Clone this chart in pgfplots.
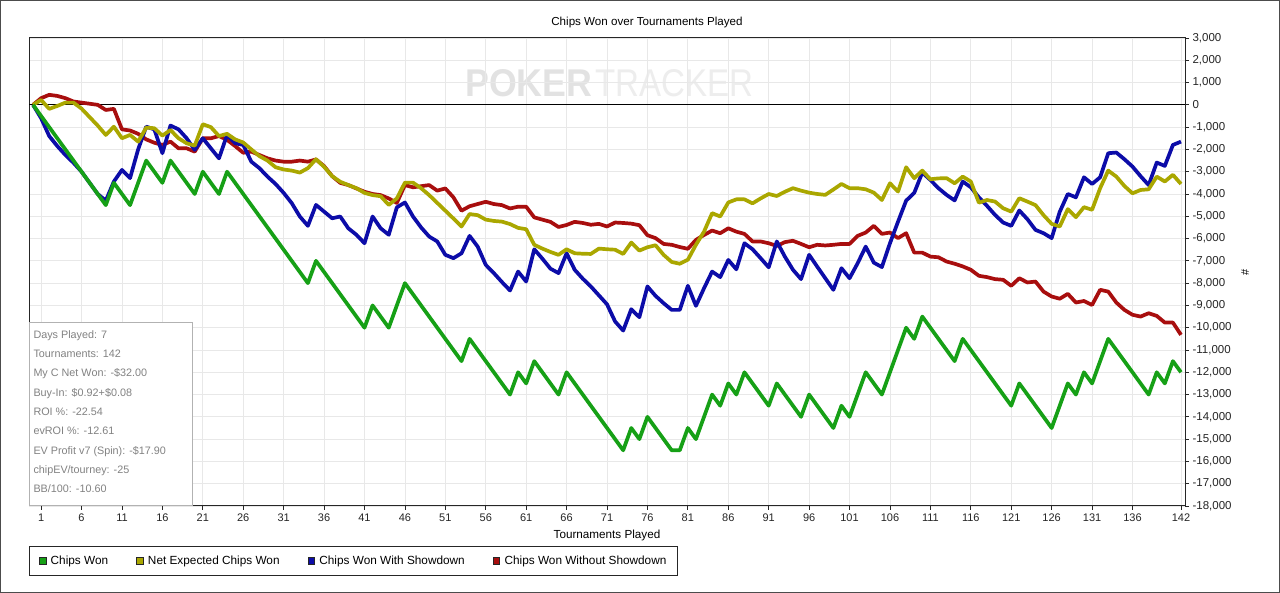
\documentclass[border=0pt]{standalone}
\usepackage{pgfplots}
\pgfplotsset{compat=1.18}
\usepackage{pgfplotstable}
\usepackage{graphicx}
\usepackage{fontspec}
\setmainfont{Liberation Sans}

\definecolor{cwgreen}{RGB}{22,160,22}
\definecolor{cwolive}{RGB}{170,167,0}
\definecolor{cwblue}{RGB}{12,12,168}
\definecolor{cwred}{RGB}{168,14,14}
\definecolor{wmdark}{RGB}{226,226,226}
\definecolor{wmlight}{RGB}{237,237,237}
\definecolor{statgray}{RGB}{130,130,130}

\pgfplotstableread{
t cw nev wsd wosd
0 0 0 0 0
1 -500 220 -600 300
2 -1000 -180 -1400 450
3 -1500 -50 -1850 400
4 -2000 100 -2250 300
5 -2500 100 -2600 150
6 -3000 -170 -3000 100
7 -3500 -550 -3500 50
8 -4000 -930 -4000 0
9 -4500 -1350 -4300 -230
10 -3500 -980 -3440 -180
11 -4000 -1500 -2920 -1100
12 -4500 -1350 -3290 -1150
13 -3500 -1650 -2000 -1300
14 -2500 -1020 -980 -1550
15 -3000 -1050 -1100 -1700
16 -3500 -1380 -2170 -1800
17 -2500 -1130 -930 -1650
18 -3000 -1500 -1100 -1950
19 -3500 -1725 -1500 -1950
20 -4000 -1830 -2020 -2100
21 -3000 -870 -1500 -1500
22 -3500 -1000 -1950 -1500
23 -4000 -1400 -2400 -1400
24 -3000 -1300 -1350 -1570
25 -3500 -1550 -1720 -1850
26 -4000 -1690 -1800 -2150
27 -4500 -2000 -2550 -2100
28 -5000 -2300 -2840 -2250
29 -5500 -2500 -3220 -2400
30 -6000 -2800 -3550 -2500
31 -6500 -2900 -3950 -2550
32 -7000 -2950 -4410 -2550
33 -7500 -3040 -5010 -2500
34 -8000 -2840 -5430 -2550
35 -7000 -2440 -4490 -2450
36 -7500 -2780 -4790 -2750
37 -8000 -3200 -5090 -3200
38 -8500 -3450 -5010 -3500
39 -9000 -3600 -5540 -3600
40 -9500 -3740 -5830 -3750
41 -10000 -3950 -6210 -3900
42 -9000 -4050 -5010 -4000
43 -9500 -4100 -5540 -4050
44 -10000 -4490 -5830 -4200
45 -9000 -4200 -4600 -4400
46 -8000 -3490 -4380 -3600
47 -8500 -3490 -5010 -3700
48 -9000 -3740 -5500 -3650
49 -9500 -4050 -5910 -3600
50 -10000 -4400 -6130 -3850
51 -10500 -4750 -6730 -3750
52 -11000 -5100 -6880 -4150
53 -11500 -5460 -6660 -4750
54 -10500 -4900 -5880 -4550
55 -11000 -4950 -6360 -4450
56 -11500 -5150 -7180 -4350
57 -12000 -5210 -7550 -4450
58 -12500 -5240 -7950 -4500
59 -13000 -5350 -8330 -4650
60 -12000 -5520 -7480 -4570
61 -12500 -5580 -7930 -4570
62 -11500 -6280 -6480 -5050
63 -12000 -6450 -6900 -5150
64 -12500 -6600 -7350 -5250
65 -13000 -6730 -7550 -5480
66 -12000 -6480 -6660 -5390
67 -12500 -6660 -7400 -5250
68 -13000 -6680 -7800 -5300
69 -13500 -6690 -8150 -5380
70 -14000 -6450 -8550 -5340
71 -14500 -6480 -8950 -5460
72 -15000 -6500 -9720 -5280
73 -15500 -6690 -10130 -5300
74 -14500 -6180 -9170 -5330
75 -15000 -6540 -9530 -5400
76 -14000 -6390 -8150 -5850
77 -14500 -6300 -8570 -5980
78 -15000 -6730 -8900 -6240
79 -15500 -7050 -9200 -6280
80 -15500 -7130 -9200 -6380
81 -14500 -6950 -8120 -6460
82 -15000 -6280 -9020 -6060
83 -14000 -5690 -8230 -5840
84 -13000 -4860 -7480 -5640
85 -13500 -5010 -7730 -5760
86 -12500 -4380 -6960 -5540
87 -13000 -4240 -7380 -5690
88 -12000 -4240 -6210 -5790
89 -12500 -4420 -6480 -6130
90 -13000 -4200 -6880 -6130
91 -13500 -4000 -7290 -6210
92 -12500 -4090 -6130 -6330
93 -13000 -3900 -6810 -6160
94 -13500 -3740 -7400 -6100
95 -14000 -3850 -7820 -6240
96 -13000 -3940 -6730 -6390
97 -13500 -4000 -7260 -6280
98 -14000 -4040 -7780 -6310
99 -14500 -3800 -8300 -6280
100 -13500 -3550 -7330 -6240
101 -14000 -3740 -7780 -6240
102 -13000 -3740 -7110 -5880
103 -12000 -3790 -6360 -5730
104 -12500 -3940 -7080 -5430
105 -13000 -4270 -7280 -5790
106 -12000 -3520 -6210 -5730
107 -11000 -3890 -5240 -5980
108 -10000 -2800 -4300 -5760
109 -10500 -3290 -3950 -6630
110 -9500 -2950 -3040 -6630
111 -10000 -3340 -3370 -6810
112 -10500 -3300 -3740 -6840
113 -11000 -3290 -4040 -7030
114 -11500 -3520 -4290 -7130
115 -10500 -3220 -3440 -7250
116 -11000 -3440 -3700 -7400
117 -11500 -4390 -4150 -7670
118 -12000 -4270 -4530 -7730
119 -12500 -4340 -4940 -7820
120 -13000 -4640 -5280 -7850
121 -13500 -4790 -5430 -8120
122 -12500 -4190 -4740 -7780
123 -13000 -4340 -5130 -7970
124 -13500 -4500 -5610 -7930
125 -14000 -4950 -5760 -8380
126 -14500 -5340 -5980 -8600
127 -13500 -5460 -4800 -8700
128 -12500 -4680 -4000 -8480
129 -13000 -5040 -4150 -8870
130 -12000 -4590 -3250 -8800
131 -12500 -4710 -3550 -8980
132 -11500 -3740 -3250 -8300
133 -10500 -2950 -2170 -8380
134 -11000 -3220 -2140 -8870
135 -11500 -3640 -2440 -9200
136 -12000 -3970 -2770 -9420
137 -12500 -3820 -3200 -9500
138 -13000 -3790 -3600 -9350
139 -12000 -3220 -2590 -9470
140 -12500 -3440 -2740 -9770
141 -11500 -3140 -1800 -9770
142 -12000 -3550 -1650 -10320
}\chipsdata

\begin{document}
\begin{tikzpicture}[x=1pt,y=1pt]
\fill[white] (0,0) rectangle (1280,593);
% watermark
\node[anchor=south west, inner sep=0, text=wmdark] at (465,496.3) {\resizebox{127pt}{27pt}{\bfseries POKER}};
\node[anchor=south west, inner sep=0, text=wmlight] at (595,496.3) {\resizebox{158pt}{27pt}{TRACKER}};
% title
\node[font=\fontsize{11.6}{13}\selectfont] at (647,570.7) {Chips Won over Tournaments Played};
% y axis label
\node[rotate=90, font=\fontsize{11}{13}\selectfont] at (1245,321) {\#};
\begin{axis}[
  at={(29pt,87pt)}, anchor=south west,
  scale only axis, width=1156pt, height=468pt,
  xmin=-0.5, xmax=142.5, ymin=-18000, ymax=3000,
  xtick={1,6,11,16,21,26,31,36,41,46,51,56,61,66,71,76,81,86,91,96,101,106,111,116,121,126,131,136,142},
  ytick={-18000,-17000,...,3000},
  scaled y ticks=false, scaled x ticks=false,
  xtick pos=bottom, ytick pos=right, yticklabel pos=right,
  tick align=outside, major tick length=4pt,
  tick style={black!85, line width=0.8pt},
  grid=major, major grid style={draw=black!9, line width=0.8pt},
  axis line style={black!85, line width=1pt},
  extra y ticks={0}, extra y tick labels={},
  extra y tick style={major grid style={draw=black, line width=1pt}, major tick length=0pt},
  /pgf/number format/assume math mode=true,
  /pgf/number format/1000 sep={,},
  x tick label style={font=\fontsize{11}{12}\selectfont, text=black!85},
  y tick label style={font=\fontsize{11.5}{12}\selectfont, text=black!85},
  xlabel={Tournaments Played},
  xlabel style={font=\fontsize{11.7}{13}\selectfont, at={(rel axis cs:0.5,0)}, anchor=center, yshift=-29pt},
  legend columns=4,
  legend cell align=left,
  legend style={at={(rel axis cs:0,0)}, anchor=north west, yshift=-40pt,
    draw=black!85, line width=0.8pt, fill=white,
    font=\fontsize{11.8}{14}\selectfont,
    inner xsep=9.5pt, inner ysep=7.5pt,
    /tikz/every even column/.append style={column sep=26pt}},
  legend image code/.code={\filldraw[#1, line width=0.6pt, draw=black!85] (0pt,-3.3pt) rectangle (6.6pt,3.3pt);
    \path[draw=none, fill=none] (9.5pt,0pt) circle (0pt);},
]
\addlegendimage{fill=cwgreen}
\addlegendentry{Chips Won}
\addlegendimage{fill=cwolive}
\addlegendentry{Net Expected Chips Won}
\addlegendimage{fill=cwblue}
\addlegendentry{Chips Won With Showdown}
\addlegendimage{fill=cwred}
\addlegendentry{Chips Won Without Showdown}
\addplot[forget plot, color=cwred, line width=3.7pt, line join=round, mark=none] table[x=t, y=wosd] {\chipsdata};
\addplot[forget plot, color=cwblue, line width=3.7pt, line join=round, mark=none] table[x=t, y=wsd] {\chipsdata};
\addplot[forget plot, color=cwolive, line width=3.7pt, line join=round, mark=none] table[x=t, y=nev] {\chipsdata};
\addplot[forget plot, color=cwgreen, line width=3.7pt, line join=round, mark=none] table[x=t, y=cw] {\chipsdata};
\end{axis}
% stats box
\draw[black!30, line width=0.8pt, fill=white] (29.5,88) rectangle (192.7,270.3);
\node[anchor=north west, inner sep=0, align=left, text=statgray,
  font=\fontsize{10.8}{19.3}\selectfont] at (33.3,262.8) {%
Days Played: 7\\
Tournaments: 142\\
My C Net Won: -\$32.00\\
Buy-In: \$0.92+\$0.08\\
ROI \%: -22.54\\
evROI \%: -12.61\\
EV Profit v7 (Spin): -\$17.90\\
chipEV/tourney: -25\\
BB/100: -10.60};
% outer frame
\draw[black!70, line width=1pt] (0.5,0.5) rectangle (1279.5,592.5);
\pgfresetboundingbox
\useasboundingbox (0,0) rectangle (1280,593);
\end{tikzpicture}
\end{document}
